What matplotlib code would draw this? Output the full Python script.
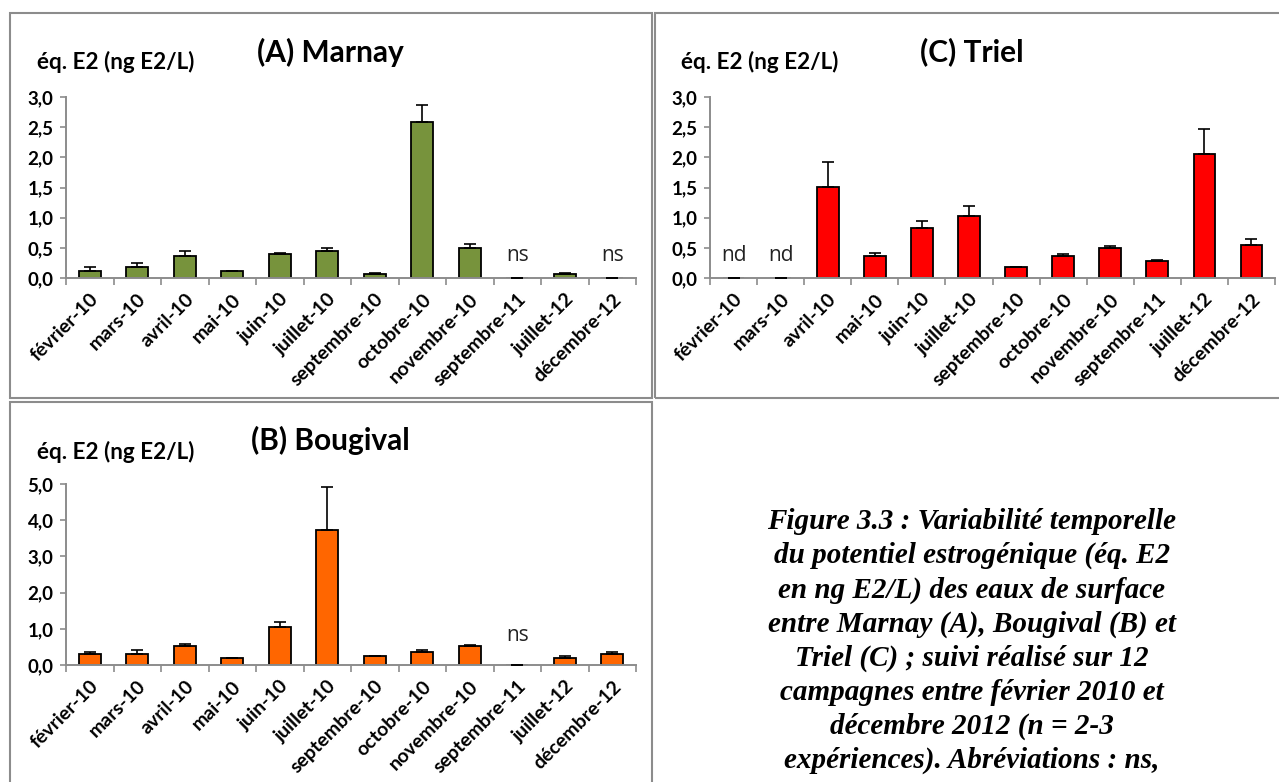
import numpy as np
import matplotlib.pyplot as plt
from matplotlib.patches import Rectangle

# Campagnes
months = ["février-10", "mars-10", "avril-10", "mai-10", "juin-10", "juillet-10",
          "septembre-10", "octobre-10", "novembre-10", "septembre-11", "juillet-12",
          "décembre-12"]

# (A) Marnay
marnay = [0.12, 0.18, 0.36, 0.12, 0.39, 0.45, 0.07, 2.59, 0.49, 0.0, 0.07, 0.0]
marnay_err = [0.06, 0.07, 0.09, 0.0, 0.03, 0.05, 0.02, 0.28, 0.08, 0.0, 0.02, 0.0]
marnay_notes = {9: "ns", 11: "ns"}

# (C) Triel
triel = [0.0, 0.0, 1.51, 0.36, 0.83, 1.02, 0.18, 0.36, 0.50, 0.28, 2.06, 0.54]
triel_err = [0.0, 0.0, 0.41, 0.06, 0.12, 0.17, 0.0, 0.03, 0.03, 0.02, 0.41, 0.10]
triel_notes = {0: "nd", 1: "nd"}

# (B) Bougival
bougival = [0.30, 0.30, 0.52, 0.19, 1.05, 3.72, 0.25, 0.36, 0.52, 0.0, 0.20, 0.30]
bougival_err = [0.05, 0.12, 0.07, 0.0, 0.13, 1.19, 0.0, 0.06, 0.03, 0.0, 0.05, 0.05]
bougival_notes = {9: "ns"}

W, H = 1279, 782
fig = plt.figure(figsize=(W / 100, H / 100), dpi=100)

LAB = "Lato"
GRAY = "#8c8c8c"


def px_axes(x0, y_top, x1, y_bot):
    return fig.add_axes([x0 / W, 1 - y_bot / H, (x1 - x0) / W, (y_bot - y_top) / H])


def panel(ax, vals, errs, color, ymax, step, notes, note_y):
    x = np.arange(len(months))
    ax.bar(x, vals, width=0.46, color=color, edgecolor="black", linewidth=1.3, zorder=2)
    ax.errorbar(x, vals, yerr=[np.zeros(len(errs)), errs], fmt="none", ecolor="black",
                elinewidth=1.2, capsize=4.5, capthick=1.2, zorder=3)
    ax.set_xlim(-0.5, len(months) - 0.5)
    ax.set_ylim(0, ymax)
    yt = np.arange(0, ymax + step / 2, step)
    ax.set_yticks(yt)
    ax.set_yticklabels([f"{v:.1f}".replace(".", ",") for v in yt],
                       fontfamily=LAB, fontweight="bold", fontsize=13.5)
    ax.set_xticks(x)
    ax.set_xticklabels(months, rotation=45, ha="right", rotation_mode="anchor",
                       fontfamily=LAB, fontweight="bold", fontsize=14)
    ax.tick_params(axis="x", length=0, pad=9)
    ax.set_xticks(np.arange(-0.5, len(months)), minor=True)
    ax.tick_params(axis="x", which="minor", length=5, color=GRAY, width=1.2)
    ax.tick_params(axis="y", length=4, color=GRAY, width=1.2, pad=5)
    for s in ["top", "right"]:
        ax.spines[s].set_visible(False)
    for s in ["left", "bottom"]:
        ax.spines[s].set_color(GRAY)
        ax.spines[s].set_linewidth(1.4)
    for i, t in notes.items():
        ax.text(i, note_y, t, ha="center", va="center", fontfamily="Open Sans",
                fontsize=15, color="#222222")


axA = px_axes(66, 97, 636, 278)
panel(axA, marnay, marnay_err, "#77933C", 3.0, 0.5, marnay_notes, 0.37)
axC = px_axes(710, 97, 1275, 278)
panel(axC, triel, triel_err, "#FF0000", 3.0, 0.5, triel_notes, 0.37)
axB = px_axes(66, 484, 636, 665)
panel(axB, bougival, bougival_err, "#FF6600", 5.0, 1.0, bougival_notes, 0.82)

# titles and unit labels
for xt, yt, title, xl, yl in [(330, 52, "(A) Marnay", 37, 62),
                               (972, 52, "(C) Triel", 681, 62),
                               (330, 440, "(B) Bougival", 37, 452)]:
    fig.text(xt / W, 1 - yt / H, title, ha="center", va="center",
             fontfamily=LAB, fontweight="bold", fontsize=21.5)
    fig.text(xl / W, 1 - yl / H, "éq. E2 (ng E2/L)", ha="left", va="center",
             fontfamily=LAB, fontweight="bold", fontsize=16.2)

# panel frames
for x0, y0, x1, y1 in [(10, 13, 652, 398), (655, 13, 1290, 398), (10, 402, 652, 800)]:
    fig.add_artist(Rectangle((x0 / W, 1 - y1 / H), (x1 - x0) / W, (y1 - y0) / H,
                             transform=fig.transFigure, fill=False,
                             edgecolor=GRAY, linewidth=1.5, clip_on=False))

caption = ("Figure 3.3 : Variabilité temporelle\n"
           "du potentiel estrogénique (éq. E2\n"
           "en ng E2/L) des eaux de surface\n"
           "entre Marnay (A), Bougival (B) et\n"
           "Triel (C) ; suivi réalisé sur 12\n"
           "campagnes entre février 2010 et\n"
           "décembre 2012 (n = 2-3\n"
           "expériences). Abréviations : ns,")
fig.text(972 / W, 1 - 508 / H, caption, ha="center", va="top",
         family=["Liberation Serif", "DejaVu Serif"], fontweight="bold", fontstyle="italic",
         fontsize=21, linespacing=1.33)

fig.savefig("out.png", dpi=100)
